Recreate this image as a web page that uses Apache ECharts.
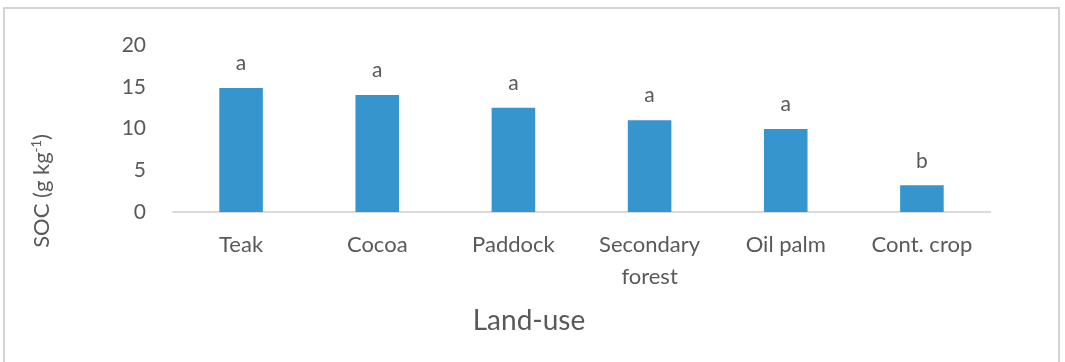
<!DOCTYPE html>
<html>
<head>
<meta charset="utf-8">
<script src="https://cdn.jsdelivr.net/npm/echarts@6/dist/echarts.min.js"></script>
<style>
  html, body { margin: 0; padding: 0; background: #ffffff; }
  #chart { width: 1065px; height: 362px; }
</style>
</head>
<body>
<div id="chart"></div>
<script>
// Soil organic carbon by land-use type
const categories = ['Teak', 'Cocoa', 'Paddock', 'Secondary\nforest', 'Oil palm', 'Cont. crop'];
const socValues = [14.85, 14.0, 12.5, 11.0, 9.95, 3.2];
const groupLetters = ['a', 'a', 'a', 'a', 'a', 'b'];
const yTicks = [0, 5, 10, 15, 20];

const FONT = 'Lato, "Open Sans", sans-serif';
const TEXT = '#595959';

const chart = echarts.init(document.getElementById('chart'), null, { renderer: 'canvas' });

chart.setOption({
  animation: false,
  backgroundColor: '#ffffff',
  grid: { left: 173, right: 75, top: 45, bottom: 150, containLabel: false },
  xAxis: {
    type: 'category',
    data: categories,
    axisLine: { lineStyle: { color: '#d9d9d9', width: 2 } },
    axisTick: { show: false },
    axisLabel: { color: TEXT, fontFamily: FONT, fontSize: 22, margin: 17, lineHeight: 32 }
  },
  yAxis: {
    type: 'value',
    min: yTicks[0],
    max: yTicks[yTicks.length - 1],
    interval: 5,
    axisLine: { show: false },
    axisTick: { show: false },
    splitLine: { show: false },
    axisLabel: { color: TEXT, fontFamily: FONT, fontSize: 21, margin: 27 }
  },
  series: [{
    type: 'bar',
    data: socValues,
    barWidth: '32%',
    itemStyle: { color: '#3795ce' },
    label: {
      show: true,
      position: 'top',
      distance: 14,
      color: TEXT,
      fontFamily: FONT,
      fontSize: 21,
      formatter: p => groupLetters[p.dataIndex]
    }
  }],
  graphic: [
    {
      type: 'rect',
      shape: { x: 4, y: 8, width: 1055, height: 380 },
      style: { fill: 'none', stroke: '#d4d4d4', lineWidth: 2 },
      silent: true
    },
    {
      type: 'text',
      x: 42, y: 191,
      rotation: Math.PI / 2,
      style: {
        text: '{m|SOC (g kg}{s|-1}{m|)}',
        align: 'center',
        verticalAlign: 'middle',
        rich: {
          m: { fontFamily: FONT, fontSize: 22, fill: TEXT },
          s: { fontFamily: FONT, fontSize: 13, fill: TEXT, verticalAlign: 'top', padding: [0, 0, 10, 0] }
        }
      }
    },
    {
      type: 'text',
      x: 529, y: 321,
      style: {
        text: 'Land-use',
        align: 'center',
        verticalAlign: 'middle',
        fontFamily: FONT,
        fontSize: 28,
        fill: TEXT
      }
    }
  ]
});
</script>
</body>
</html>
